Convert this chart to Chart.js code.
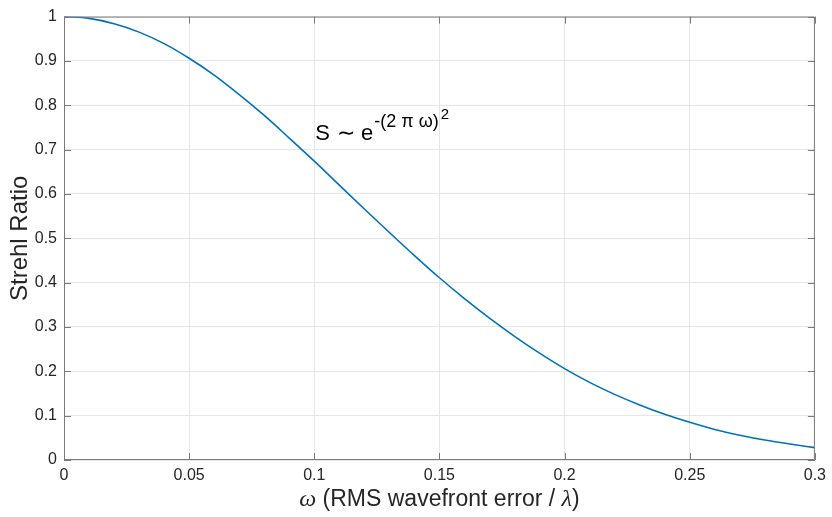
<!DOCTYPE html>
<html>
<head>
<meta charset="utf-8">
<script src="https://cdn.jsdelivr.net/npm/chart.js@4"></script>
<style>
  html, body { margin: 0; padding: 0; background: #ffffff; }
  #wrap { width: 832px; height: 517px; }
</style>
</head>
<body>
<div id="wrap"><canvas id="chart" width="832" height="517"></canvas></div>
<script>
// ---- Data ----
var omega = [0, 0.01, 0.02, 0.03, 0.04, 0.05, 0.06, 0.07, 0.08, 0.09, 0.10,
             0.11, 0.12, 0.13, 0.14, 0.15, 0.16, 0.17, 0.18, 0.19, 0.20,
             0.21, 0.22, 0.23, 0.24, 0.25, 0.26, 0.27, 0.28, 0.29, 0.30];
var strehl = [1.000, 0.996, 0.984, 0.965, 0.939, 0.906, 0.868, 0.824, 0.777, 0.726, 0.674,
              0.620, 0.566, 0.513, 0.461, 0.411, 0.364, 0.320, 0.279, 0.241, 0.206,
              0.175, 0.148, 0.124, 0.103, 0.085, 0.069, 0.056, 0.045, 0.036, 0.028];
var xTicks = [0, 0.05, 0.1, 0.15, 0.2, 0.25, 0.3];
var yTicks = [0, 0.1, 0.2, 0.3, 0.4, 0.5, 0.6, 0.7, 0.8, 0.9, 1];

var AXIS_COLOR = "#7a7a7a";
var TEXT_COLOR = "#262626";
var FONT = "Arial, 'Liberation Sans', Helvetica, sans-serif";
var SERIF = "'Liberation Serif', 'Times New Roman', serif";

// inward ticks, box outline, x-axis label with TeX-like symbols, annotation
var matlabAxes = {
  id: "matlabAxes",
  afterDatasetsDraw: function(chart) {
    var ctx = chart.ctx, a = chart.chartArea;
    var xs = chart.scales.x, ys = chart.scales.y;
    ctx.save();
    ctx.strokeStyle = AXIS_COLOR;
    ctx.lineWidth = 1;
    ctx.beginPath();
    ctx.rect(a.left + 0.5, a.top + 0.5, a.right - a.left - 1, a.bottom - a.top - 1);
    xTicks.forEach(function(v) {
      var px = Math.round(xs.getPixelForValue(v)) + 0.5;
      ctx.moveTo(px, a.bottom); ctx.lineTo(px, a.bottom - 7);
      ctx.moveTo(px, a.top); ctx.lineTo(px, a.top + 7);
    });
    yTicks.forEach(function(v) {
      var py = Math.round(ys.getPixelForValue(v)) + 0.5;
      ctx.moveTo(a.left, py); ctx.lineTo(a.left + 7, py);
      ctx.moveTo(a.right, py); ctx.lineTo(a.right - 7, py);
    });
    ctx.stroke();

    // annotation S ~ e^{-(2 pi omega)^2}
    var x = xs.getPixelForValue(0.1) + 1;
    var base = ys.getPixelForValue(0.74) + 8;
    ctx.fillStyle = "#000000";
    ctx.textBaseline = "alphabetic";
    ctx.textAlign = "left";
    ctx.font = "22px " + FONT;
    ctx.fillText("S", x, base); x += ctx.measureText("S ").width + 1;
    ctx.fillText("\u223C", x, base); x += ctx.measureText("\u223C").width + 6;
    ctx.fillText("e", x, base); x += ctx.measureText("e").width + 1;
    ctx.font = "18px " + FONT;
    var sup = "-(2 \u03C0 \u03C9)";
    ctx.fillText(sup, x, base - 13); x += ctx.measureText(sup).width + 2;
    ctx.font = "15px " + FONT;
    ctx.fillText("2", x, base - 21);

    // x-axis label
    ctx.fillStyle = TEXT_COLOR;
    var parts = [
      { t: "\u03C9", f: "italic 24px " + SERIF },
      { t: " (RMS wavefront error / ", f: "23px " + FONT },
      { t: "\u03BB", f: "italic 24px " + SERIF },
      { t: ")", f: "23px " + FONT }
    ];
    var total = 0;
    parts.forEach(function(p) { ctx.font = p.f; p.w = ctx.measureText(p.t).width; total += p.w; });
    var cx = (a.left + a.right) / 2 - total / 2;
    var by = 506;
    parts.forEach(function(p) { ctx.font = p.f; ctx.fillText(p.t, cx, by); cx += p.w; });
    ctx.restore();
  }
};

new Chart(document.getElementById("chart"), {
  type: "line",
  data: {
    datasets: [{
      data: omega.map(function(w, i) { return { x: w, y: strehl[i] }; }),
      borderColor: "#0072BD",
      borderWidth: 1.6,
      pointRadius: 0,
      fill: false,
      cubicInterpolationMode: "monotone",
    }],
  },
  options: {
    responsive: false,
    animation: false,
    layout: { padding: { top: 14, right: 12, left: 0, bottom: 0 } },
    plugins: { legend: { display: false }, tooltip: { enabled: false } },
    scales: {
      x: {
        type: "linear",
        min: 0, max: 0.3,
        afterBuildTicks: function(s) { s.ticks = xTicks.map(function(v) { return { value: v }; }); },
        afterFit: function(s) { s.height = 57; },
        grid: { color: "#e6e6e6", drawTicks: false },
        border: { display: false },
        ticks: {
          color: TEXT_COLOR, padding: 6, maxRotation: 0,
          font: { family: FONT, size: 16 },
          callback: function(v) { return String(+v.toFixed(2)); },
        },
      },
      y: {
        min: 0, max: 1,
        afterBuildTicks: function(s) { s.ticks = yTicks.map(function(v) { return { value: v }; }); },
        afterFit: function(s) { s.width = 64; },
        grid: { color: "#e6e6e6", drawTicks: false },
        border: { display: false },
        ticks: {
          color: TEXT_COLOR, padding: 7,
          font: { family: FONT, size: 16 },
          callback: function(v) { return String(+v.toFixed(1)); },
        },
        title: {
          display: true, text: "Strehl Ratio", color: TEXT_COLOR,
          font: { family: FONT, size: 24 }, padding: { top: 6, bottom: 0 },
        },
      },
    },
  },
  plugins: [matlabAxes],
});
</script>
</body>
</html>
